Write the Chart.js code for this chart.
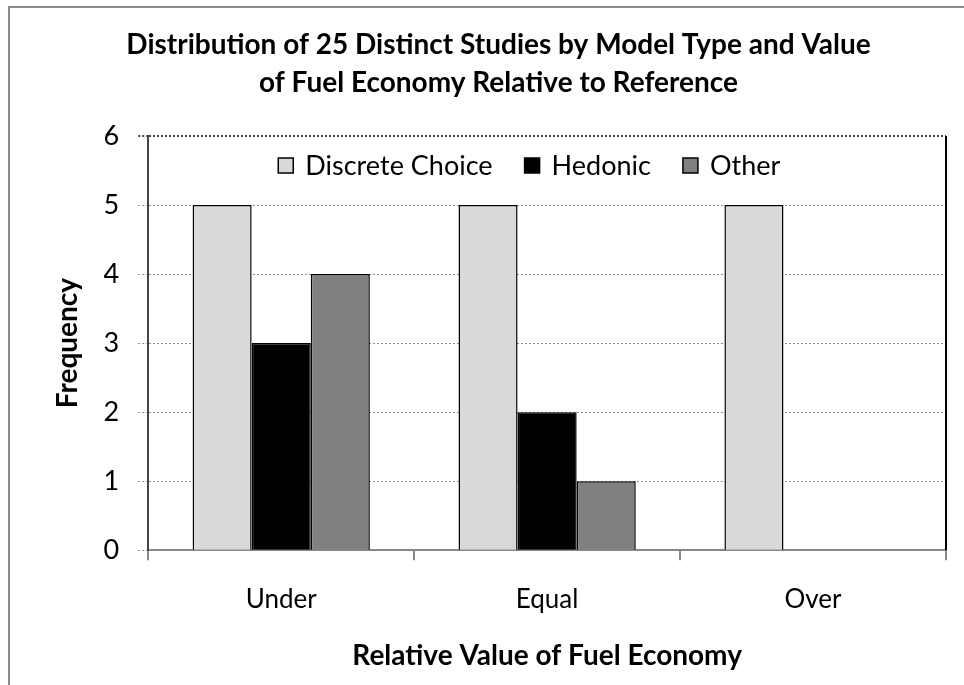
<!DOCTYPE html>
<html>
<head>
<meta charset="utf-8">
<script src="https://cdn.jsdelivr.net/npm/chart.js@4.4.0/dist/chart.umd.min.js"></script>
<style>
  html, body { margin: 0; padding: 0; background: #fff; }
  #wrap { width: 964px; height: 685px; position: relative; }
</style>
</head>
<body>
<div id="wrap"><canvas id="freq"></canvas></div>
<script>
const categories = ['Under', 'Equal', 'Over']
const discreteChoice = [5, 5, 5]
const hedonic = [3, 2, 0]
const other = [4, 1, 0]
const yTicks = [0, 1, 2, 3, 4, 5, 6]

const FONT = 'Lato, "Open Sans", sans-serif'

// outer frame + right border of plot area + legend drawn inside the plot
const excelBits = {
    id: 'excelBits',
    beforeDraw(chart) {
        const c = chart.ctx
        c.save()
        c.fillStyle = '#fff'
        c.fillRect(0, 0, chart.width, chart.height)
        c.strokeStyle = '#8c8c8c'
        c.lineWidth = 2
        c.strokeRect(9, 7, chart.width + 10, chart.height + 10)
        c.restore()
    },
    afterDraw(chart) {
        const c = chart.ctx
        const a = chart.chartArea
        c.save()
        c.strokeStyle = '#000'
        c.lineWidth = 2
        c.beginPath()
        c.moveTo(a.right, a.top)
        c.lineTo(a.right, a.bottom)
        c.stroke()

        c.font = '27px ' + FONT
        c.textBaseline = 'middle'
        let x = a.left + 130
        const y = a.top + 29
        chart.data.datasets.forEach(ds => {
            c.fillStyle = ds.backgroundColor
            c.fillRect(x, y - 7, 15, 15)
            c.strokeStyle = '#000'
            c.lineWidth = 1.5
            c.strokeRect(x, y - 7, 15, 15)
            x += 15 + 12
            c.fillStyle = '#000'
            c.fillText(ds.label, x, y + 1)
            x += c.measureText(ds.label).width + 32
        })
        c.restore()
    }
}

const ctx = document.getElementById('freq').getContext('2d')
new Chart(ctx, {
    type: 'bar',
    data: {
        labels: categories,
        datasets: [
            {
                label: 'Discrete Choice',
                data: discreteChoice,
                backgroundColor: '#d9d9d9',
                borderColor: '#000',
                borderWidth: 1.5,
            },
            {
                label: 'Hedonic',
                data: hedonic,
                backgroundColor: '#000000',
                borderColor: '#000',
                borderWidth: 1.5,
            },
            {
                label: 'Other',
                data: other,
                backgroundColor: '#808080',
                borderColor: '#000',
                borderWidth: 1.5,
            }
        ]
    },
    options: {
        responsive: true,
        maintainAspectRatio: false,
        animation: false,
        layout: {
            padding: { left: 51, right: 18, top: 26, bottom: 12 }
        },
        datasets: {
            bar: {
                categoryPercentage: 3 / 4.5,
                barPercentage: 1,
            }
        },
        plugins: {
            legend: { display: false },
            tooltip: { enabled: false },
            title: {
                display: true,
                text: ['Distribution of 25 Distinct Studies by Model Type and Value',
                       'of Fuel Economy Relative to Reference'],
                color: '#000',
                font: { family: FONT, size: 28, weight: 'bold', lineHeight: 38 / 28 },
                padding: { top: 0, bottom: 34 }
            }
        },
        scales: {
            x: {
                offset: true,
                grid: {
                    offset: true,
                    drawOnChartArea: false,
                    color: '#888',
                    tickLength: 10,
                    lineWidth: 2,
                },
                border: { color: '#888', width: 2 },
                ticks: {
                    color: '#000',
                    font: { family: FONT, size: 26 },
                    padding: 24,
                },
                title: {
                    display: true,
                    text: 'Relative Value of Fuel Economy',
                    color: '#000',
                    font: { family: FONT, size: 28, weight: 'bold' },
                    padding: { top: 0, bottom: 0 }
                }
            },
            y: {
                min: yTicks[0],
                max: yTicks[yTicks.length - 1],
                afterBuildTicks: axis => {
                    axis.ticks = yTicks.map(v => ({ value: v }))
                },
                grid: {
                    color: c => c.tick && c.tick.value === 6 ? '#444' : '#8c8c8c',
                    lineWidth: c => c.tick && c.tick.value === 6 ? 2 : 1,
                    tickLength: 10,
                    tickBorderDash: [2, 2],
                },
                border: { color: '#444', width: 2, dash: [2, 2] },
                ticks: {
                    color: '#000',
                    font: { family: FONT, size: 27 },
                    padding: 19,
                },
                title: {
                    display: true,
                    text: 'Frequency',
                    color: '#000',
                    font: { family: FONT, size: 28, weight: 'bold' },
                    padding: { top: 0, bottom: 0 }
                }
            }
        }
    },
    plugins: [excelBits]
})
</script>
</body>
</html>
